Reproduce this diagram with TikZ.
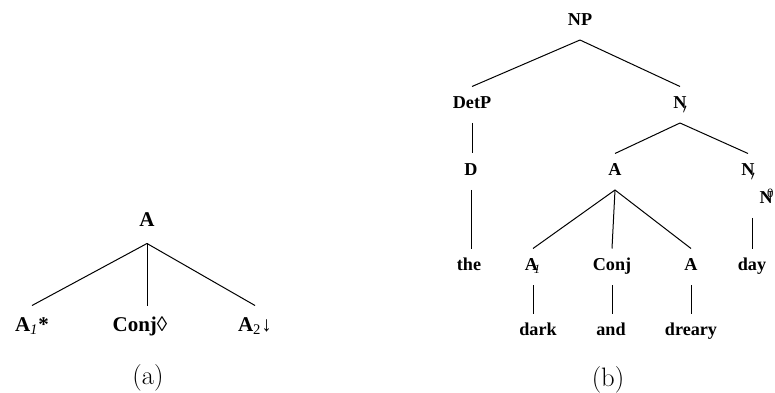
\documentclass[tikz,border=0pt]{standalone}
\usepackage{fontspec}
\newfontfamily\tms{Liberation Serif}
\usetikzlibrary{calc}
\newcommand{\nbar}{N\kern-0.2em\raisebox{-0.5ex}{$\scriptstyle\prime$}}
\tikzset{
  every picture/.style={x=0.6pt, y=-0.6pt, line width=0.6pt},
  cat/.style={font=\tms\bfseries\fontsize{10.9}{12}\selectfont, inner sep=0pt,
    text height=13.15pt, text depth=8.15pt, yshift=-1.05pt},
  bigcat/.style={font=\tms\bfseries\fontsize{12.6}{14}\selectfont, inner sep=0pt,
    text height=15.5pt, text depth=9.7pt, yshift=-1.2pt},
  caption/.style={font=\fontsize{16}{19}\selectfont, inner sep=0pt},
}
\begin{document}
\begin{tikzpicture}
  \useasboundingbox (0,0) rectangle (775,393);
  \clip (0,0) rectangle (775,393);
  % (a)
  \node[bigcat] (top) at (147,220) {A};
  \node[bigcat] (left) at (32,325) {A\textsubscript{\mdseries\itshape 1}*};
  \node[bigcat] (mid) at (140,325) {Conj{\mdseries ◊}};
  \node[bigcat] (right) at (255,325) {A\textsubscript{\mdseries 2}{\mdseries ↓}};
  \draw (top.south) -- (left.north);
  \draw (top.south) -- (top.south |- mid.north);
  \draw (top.south) -- (right.north);
  \node[caption] (capa) at (148,378) {(a)};
  % (b)
  \node[cat] (np) at (580,20) {NP};
  \node[cat] (detp) at (472,103) {DetP};
  \node[cat] (nb) at (680,103) {\nbar};
  \node[cat] (d) at (471,170) {D};
  \node[cat] (adj) at (615,170) {A};
  \node[cat] (nb2) at (748,170) {\nbar};
  \node[cat, anchor=west] (nzero) at (759,198) {N\kern-0.3em\textsuperscript{\mdseries 0}};
  \node[cat] (the) at (469,265) {the};
  \node[cat] (a1) at (533,265) {A\kern-0.22em\textsubscript{\mdseries\itshape 1}};
  \node[cat] (conj) at (612,265) {Conj};
  \node[cat] (a2) at (691,265) {A};
  \node[cat] (day) at (752,265) {day};
  \node[cat] (dark) at (538,330) {dark};
  \node[cat] (and) at (611,330) {and};
  \node[cat] (dreary) at (691,330) {dreary};
  \foreach \p/\c in {np/detp, np/nb, nb/adj, nb/nb2, adj/a1, adj/conj, adj/a2}
    \draw (\p.south) -- (\c.north);
  % single daughters hang straight down
  \foreach \p/\c in {detp/d, d/the, a1/dark, conj/and, a2/dreary}
    \draw (\p.south) -- (\p.south |- \c.north);
  \draw (day.north |- nzero.south) -- (day.north);
  \node[caption] (capb) at (608,380) {(b)};
\end{tikzpicture}
\end{document}
